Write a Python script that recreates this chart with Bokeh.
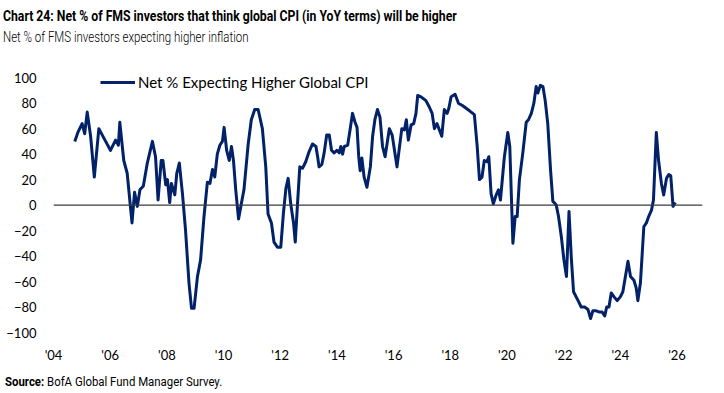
from bokeh.plotting import figure
from bokeh.models import Range1d, Span, Legend, LegendItem, FixedTicker, Div
from bokeh.layouts import column
from bokeh.embed import file_html
from bokeh.resources import INLINE

# decimal-year dates and net % readings
years = [2004.75, 2004.86, 2005.01, 2005.10, 2005.19, 2005.31, 2005.44, 2005.60, 2005.84, 2006.01,
         2006.19, 2006.29, 2006.34, 2006.48, 2006.60, 2006.77, 2006.86, 2006.96, 2007.05, 2007.17,
         2007.31, 2007.49, 2007.60, 2007.69, 2007.80, 2007.86, 2007.96, 2008.02, 2008.10, 2008.16,
         2008.28, 2008.35, 2008.44, 2008.55, 2008.66, 2008.78, 2008.87, 2008.96, 2009.08, 2009.19,
         2009.31, 2009.43, 2009.52, 2009.61, 2009.69, 2009.78, 2009.87, 2009.96, 2010.02, 2010.11,
         2010.20, 2010.28, 2010.35, 2010.43, 2010.53, 2010.61, 2010.72, 2010.87, 2010.98, 2011.10,
         2011.22, 2011.37, 2011.49, 2011.57, 2011.69, 2011.78, 2011.90, 2012.02, 2012.11, 2012.20,
         2012.28, 2012.37, 2012.47, 2012.53, 2012.61, 2012.69, 2012.79, 2012.90, 2013.02, 2013.14,
         2013.26, 2013.32, 2013.37, 2013.47, 2013.55, 2013.64, 2013.73, 2013.81, 2013.90, 2014.00,
         2014.08, 2014.14, 2014.20, 2014.26, 2014.38, 2014.47, 2014.55, 2014.64, 2014.71, 2014.77,
         2014.82, 2014.88, 2014.96, 2015.06, 2015.18, 2015.26, 2015.34, 2015.43, 2015.52, 2015.61,
         2015.70, 2015.85, 2015.95, 2016.12, 2016.29, 2016.38, 2016.45, 2016.52, 2016.62, 2016.71,
         2016.79, 2016.85, 2016.97, 2017.14, 2017.26, 2017.36, 2017.44, 2017.53, 2017.70, 2017.79,
         2017.89, 2017.95, 2018.03, 2018.17, 2018.29, 2018.44, 2018.56, 2018.68, 2018.85, 2018.95,
         2019.03, 2019.12, 2019.20, 2019.29, 2019.36, 2019.44, 2019.52, 2019.62, 2019.70, 2019.77,
         2019.91, 2020.03, 2020.10, 2020.21, 2020.29, 2020.36, 2020.44, 2020.56, 2020.68, 2020.76,
         2020.86, 2020.95, 2021.03, 2021.09, 2021.18, 2021.27, 2021.35, 2021.44, 2021.54, 2021.62,
         2021.74, 2021.82, 2021.92, 2022.01, 2022.10, 2022.19, 2022.27, 2022.35, 2022.51, 2022.62,
         2022.74, 2022.86, 2022.95, 2023.03, 2023.15, 2023.27, 2023.36, 2023.45, 2023.52, 2023.60,
         2023.68, 2023.78, 2023.89, 2024.00, 2024.09, 2024.27, 2024.36, 2024.48, 2024.56, 2024.62,
         2024.71, 2024.83, 2024.92, 2025.00, 2025.10, 2025.17, 2025.27, 2025.35, 2025.45, 2025.53,
         2025.63, 2025.71, 2025.78, 2025.86, 2025.94]
net_pct = [50, 57, 64, 56, 73, 54, 22, 60, 50, 43,
           51, 47, 65, 35, 25, -14, 10, -1, 12, 15,
           33, 50, 38, 4, 35, 35, 16, 20, 2, 17,
           8, 25, 33, 9, -20, -61, -81, -81, -56, -43,
           -9, 18, 17, 28, 22, 40, 47, 50, 61, 43,
           35, 46, 35, 12, -11, -1, 12, 48, 67, 75,
           75, 60, 30, -7, -14, -29, -33, -33, -7, 13,
           21, 1, -14, -29, 1, 30, 29, 34, 42, 48,
           46, 38, 30, 32, 41, 55, 55, 43, 41, 43,
           41, 46, 40, 46, 47, 60, 72, 65, 61, 38,
           27, 37, 22, 14, 30, 54, 67, 75, 69, 46,
           38, 60, 55, 30, 60, 59, 67, 51, 63, 64,
           72, 86, 85, 82, 77, 72, 60, 64, 54, 75,
           72, 76, 85, 87, 80, 78, 76, 74, 71, 46,
           20, 22, 35, 34, 38, 9, 1, 8, 12, 4,
           38, 57, 46, -30, -9, -9, 20, 41, 65, 67,
           72, 80, 93, 88, 94, 93, 82, 64, 27, 3,
           0, -9, -25, -43, -56, -5, -41, -68, -75, -80,
           -80, -82, -89, -83, -83, -84, -84, -87, -80, -80,
           -69, -72, -75, -72, -68, -44, -56, -59, -65, -75,
           -61, -17, -14, -9, -4, 4, 57, 35, 17, 8,
           21, 24, 23, -1, 2]

x_ticks = [2004, 2006, 2008, 2010, 2012, 2014, 2016, 2018, 2020, 2022, 2024, 2026]
x_tick_labels = ["'04", "'06", "'08", "'10", "'12", "'14", "'16", "'18", "'20", "'22", "'24", "'26"]
y_ticks = [-100, -80, -60, -40, -20, 0, 20, 40, 60, 80, 100]

title_text = "Chart 24: Net % of FMS investors that think global CPI (in YoY terms) will be higher"
subtitle_text = "Net % of FMS investors expecting higher inflation"
legend_text = "Net % Expecting Higher Global CPI"
source_bold = "Source:"
source_text = "BofA Global Fund Manager Survey."

NAVY = "#012169"
TICK_FONT = "Lato"
HEAD_FONT = "'Roboto', sans-serif"

W = 724

header = Div(
    text=(f'<div style="padding:6px 0 0 3px;font-family:{HEAD_FONT};font-weight:bold;'
          f'font-size:15px;line-height:20px;white-space:nowrap;color:#000;'
          f'transform:scaleX(0.815);transform-origin:3px 50%">{title_text}</div>'
          f'<div style="padding:0 0 0 3px;font-family:{HEAD_FONT};font-weight:300;font-size:14px;'
          f'line-height:22px;white-space:nowrap;color:#000;'
          f'transform:scaleX(0.82);transform-origin:3px 50%">{subtitle_text}</div>'),
    width=W, height=60, margin=(0, 0, 0, 0))

p = figure(width=W, height=310, output_backend="svg", toolbar_location=None,
           x_range=Range1d(2004, 2026.9), y_range=Range1d(-100, 108),
           min_border_left=53, min_border_right=22, min_border_top=7, min_border_bottom=38,
           margin=(0, 0, 0, 0))
p.outline_line_color = None
p.xgrid.grid_line_color = None
p.ygrid.grid_line_color = None
p.background_fill_color = "white"

for ax in (p.xaxis[0], p.yaxis[0]):
    ax.axis_line_color = None
    ax.major_tick_line_color = None
    ax.minor_tick_line_color = None
    ax.major_tick_out = 0
    ax.major_tick_in = 0
    ax.minor_tick_out = 0
    ax.major_label_text_font = TICK_FONT
    ax.major_label_text_font_size = "13px"
    ax.major_label_text_color = "#000000"

p.xaxis.ticker = FixedTicker(ticks=x_ticks)
p.xaxis.major_label_overrides = {t: l for t, l in zip(x_ticks, x_tick_labels)}
p.xaxis.major_label_standoff = 14
p.yaxis.ticker = FixedTicker(ticks=y_ticks)
p.yaxis.major_label_standoff = 17

p.add_layout(Span(location=0, dimension="width", line_color="#3a3a3a", line_width=1.3))

r = p.line(years, net_pct, line_color=NAVY, line_width=3, line_join="round")

legend = Legend(items=[LegendItem(label=legend_text, renderers=[r])], location=(47, 241),
                border_line_color=None, background_fill_alpha=0, padding=0, margin=0,
                glyph_width=35, glyph_height=10, label_height=10, label_standoff=3, spacing=0,
                label_text_font=TICK_FONT, label_text_font_size="15px", label_text_color="#000000")
p.add_layout(legend)

source = Div(
    text=(f'<div style="padding:3px 0 0 5px;font-family:{HEAD_FONT};font-size:12px;'
          f'line-height:18px;white-space:nowrap;color:#000;'
          f'transform:scaleX(0.95);transform-origin:5px 50%"><b>{source_bold}</b> {source_text}</div>'),
    width=W, height=22, margin=(0, 0, 0, 0))

layout = column(header, p, source, spacing=0, margin=(0, 0, 0, 0))

open("out.html", "w").write(file_html(layout, INLINE))
